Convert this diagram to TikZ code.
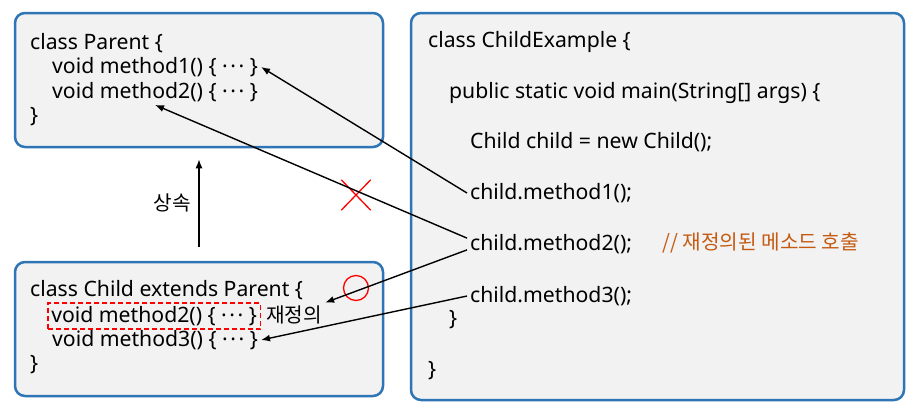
\documentclass[tikz,border=0pt]{standalone}
\usepackage{fontspec}
\setmainfont{Noto Sans}
\newfontfamily\krfont{Noto Sans CJK KR}
\usetikzlibrary{positioning}
\usetikzlibrary{shapes.misc}
\usetikzlibrary{arrows.meta}
\definecolor{boxBorder}{HTML}{2E75B6}
\definecolor{boxFill}{HTML}{F2F2F2}
\definecolor{commentColor}{HTML}{C55A11}
\newcommand{\bodyDots}{\raisebox{0.3em}{.\kern0.12em.\kern0.12em.}}

\begin{document}
\begin{tikzpicture}[x=1pt,y=-1pt]

          \tikzstyle{classBox} = [draw=boxBorder,fill=boxFill,line width=2.5pt,rounded corners=10pt];
          \tikzstyle{code} = [anchor=west,inner sep=3pt,font=\fontsize{21.2}{25}\selectfont];
          \tikzstyle{krText} = [code,font=\fontsize{20.2}{24}\selectfont\krfont];
          \tikzstyle{callEdge} = [-{Latex[length=9pt,width=7pt]},line width=1.4pt];
          \tikzstyle{redMark} = [draw=red,line width=1.3pt,inner sep=0pt];

          \useasboundingbox (0,0) rectangle (919,413);

          \node[classBox,minimum width=368pt,minimum height=134pt] (parent) at (199,80) {};
          \node[classBox,minimum width=368pt,minimum height=134pt] (child) at (199,329) {};
          \node[classBox,minimum width=493pt,minimum height=387pt] (example) at (657.5,206.5) {};

          \node[code] (pcls) at (27,43) {class Parent \{};
          \node[code] (pm1) at (49,67) {void method1() \{ \bodyDots\ \}};
          \node[code] (pm2) at (49,92) {void method2() \{ \bodyDots\ \}};
          \node[code] (pend) at (27,117) {\}};

          \node[code] (ccls) at (27,290) {class Child extends Parent \{};
          \node[code,draw=red,dash pattern=on 5pt off 3pt,line width=1.6pt,inner xsep=3.5pt,minimum height=26pt] (cm2) at (47,316) {void method2() \{ \bodyDots\ \}};
          \node[krText] (redef) at (263,315) {재정의};
          \node[code] (cm3) at (49,340) {void method3() \{ \bodyDots\ \}};
          \node[code] (cend) at (27,365) {\}};

          \node[code] (ecls) at (425,42) {class ChildExample \{};
          \node[code] (emain) at (446,93) {public static void main(String[] args) \{};
          \node[code] (enew) at (467,142) {Child child = new Child();};
          \node[code] (call1) at (467,193) {child.method1();};
          \node[code] (call2) at (467,244) {child.method2();};
          \node[krText,text=commentColor] (comment) at (659,243) {// 재정의된 메소드 호출};
          \node[code] (call3) at (467,296) {child.method3();};
          \node[code] (eclose1) at (446,320) {\}};
          \node[code] (eclose2) at (425,371) {\}};

          \node[krText,anchor=center] (inherit) at (172,203) {상속};
          \node[redMark,cross out,minimum width=28pt,minimum height=29pt] (noCall) at (356,195) {};
          \node[redMark,circle,minimum size=25pt] (okCall) at (356,288) {};

          \draw[callEdge,shorten <=14pt,shorten >=11pt] (child.north) -- (parent.south);
          \draw[callEdge] (call1.west) -- (pm1.east);
          \draw[callEdge] (call2.176) -- (pm2.south);
          \draw[callEdge] (call2.184) -- (redef.north east);
          \draw[callEdge] (call3.west) -- (cm3.east);
        \end{tikzpicture}
\end{document}
